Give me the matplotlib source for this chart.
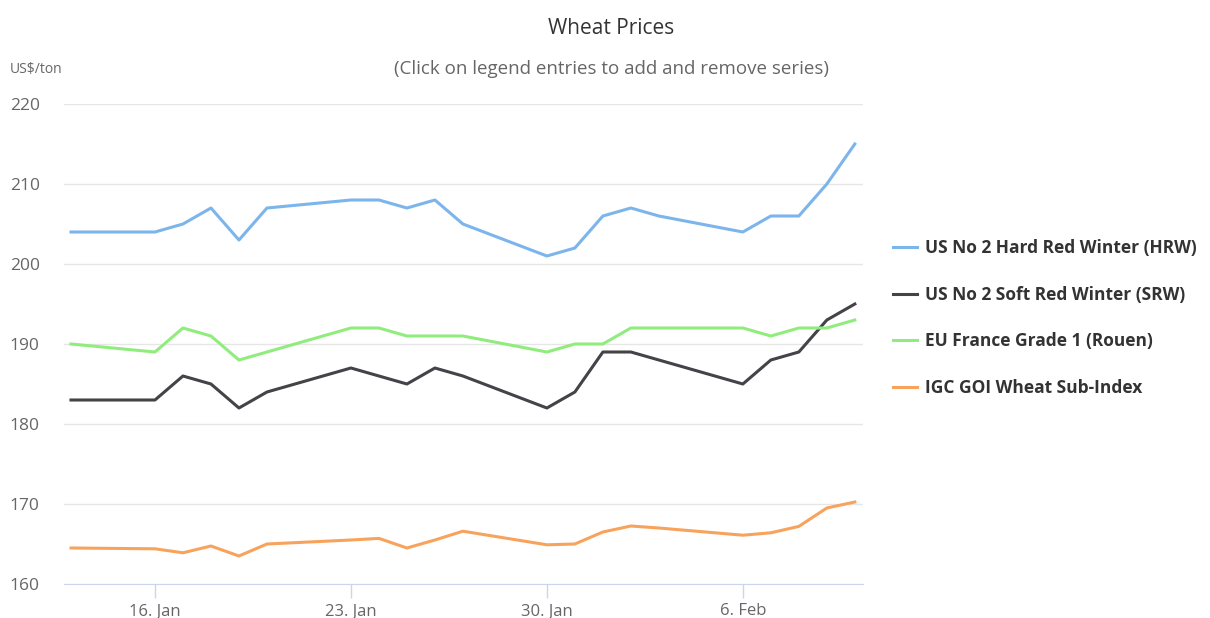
import numpy as np
import matplotlib
matplotlib.use('Agg')
import matplotlib.pyplot as plt

plt.rcParams['font.family'] = ['Open Sans', 'DejaVu Sans']

dates = np.array(['2017-01-13', '2017-01-16', '2017-01-17', '2017-01-18', '2017-01-19',
                  '2017-01-20', '2017-01-23', '2017-01-24', '2017-01-25', '2017-01-26',
                  '2017-01-27', '2017-01-30', '2017-01-31', '2017-02-01', '2017-02-02',
                  '2017-02-03', '2017-02-06', '2017-02-07', '2017-02-08', '2017-02-09',
                  '2017-02-10'], dtype='datetime64[D]')

hrw = [204, 204, 205, 207, 203, 207, 208, 208, 207, 208, 205,
       201, 202, 206, 207, 206, 204, 206, 206, 210, 215]
srw = [183, 183, 186, 185, 182, 184, 187, 186, 185, 187, 186,
       182, 184, 189, 189, 188, 185, 188, 189, 193, 195]
eu_france = [190, 189, 192, 191, 188, 189, 192, 192, 191, 191, 191,
             189, 190, 190, 192, 192, 192, 191, 192, 192, 193]
igc_goi = [164.5, 164.4, 163.9, 164.75, 163.5, 165.0, 165.5, 165.7, 164.5, 165.5, 166.6,
           164.9, 165.0, 166.5, 167.25, 167.0, 166.1, 166.4, 167.2, 169.5, 170.25]

labels = ['US No 2 Hard Red Winter (HRW)', 'US No 2 Soft Red Winter (SRW)',
          'EU France Grade 1 (Rouen)', 'IGC GOI Wheat Sub-Index']
colors = ['#7cb5ec', '#434348', '#90ed7d', '#f7a35c']
tick_dates = np.array(['2017-01-16', '2017-01-23', '2017-01-30', '2017-02-06'], dtype='datetime64[D]')
tick_labels = ['16. Jan', '23. Jan', '30. Jan', '6. Feb']

fig = plt.figure(figsize=(12.1, 6.18), dpi=100)
ax = fig.add_axes([64/1210, 1-584/618, (863-64)/1210, (584-104)/618])

for vals, lab, c in zip([hrw, srw, eu_france, igc_goi], labels, colors):
    ax.plot(dates, vals, color=c, lw=2.2, label=lab, solid_joinstyle='round')

ax.set_ylim(160, 220)
ax.set_yticks(np.arange(160, 221, 10))
ax.set_xlim(dates[0] - np.timedelta64(6, 'h'), dates[-1] + np.timedelta64(7, 'h'))
ax.set_xticks(tick_dates)
ax.set_xticklabels(tick_labels)
ax.grid(axis='y', color='#e6e6e6', lw=1)
ax.set_axisbelow(True)
for s in ['top', 'right', 'left']:
    ax.spines[s].set_visible(False)
ax.spines['bottom'].set_color('#ccd6eb')
ax.tick_params(axis='x', colors='#ccd6eb', length=10, width=1, labelcolor='#666666',
               labelsize=12, pad=4)
ax.tick_params(axis='y', length=0, labelcolor='#666666', labelsize=12.5, pad=39)
for t in ax.get_yticklabels():
    t.set_horizontalalignment('left')

fig.text(611/1210, 1-28/618, 'Wheat Prices', ha='center', va='center', fontsize=15, color='#333333')
fig.text(611/1210, 1-69/618, '(Click on legend entries to add and remove series)',
         ha='center', va='center', fontsize=13.5, color='#666666')
fig.text(10/1210, 1-69/618, 'US$/ton', ha='left', va='center', fontsize=10, color='#666666')

leg = ax.legend(loc='upper left', bbox_to_anchor=(893/1210, 1-239/618), bbox_transform=fig.transFigure,
                frameon=False, borderpad=0, borderaxespad=0, handlelength=1.4, handletextpad=0.46,
                labelspacing=1.65, prop={'size': 12.5, 'weight': 'bold'})
for t in leg.get_texts():
    t.set_color('#333333')

fig.savefig('out.png', dpi=100)
